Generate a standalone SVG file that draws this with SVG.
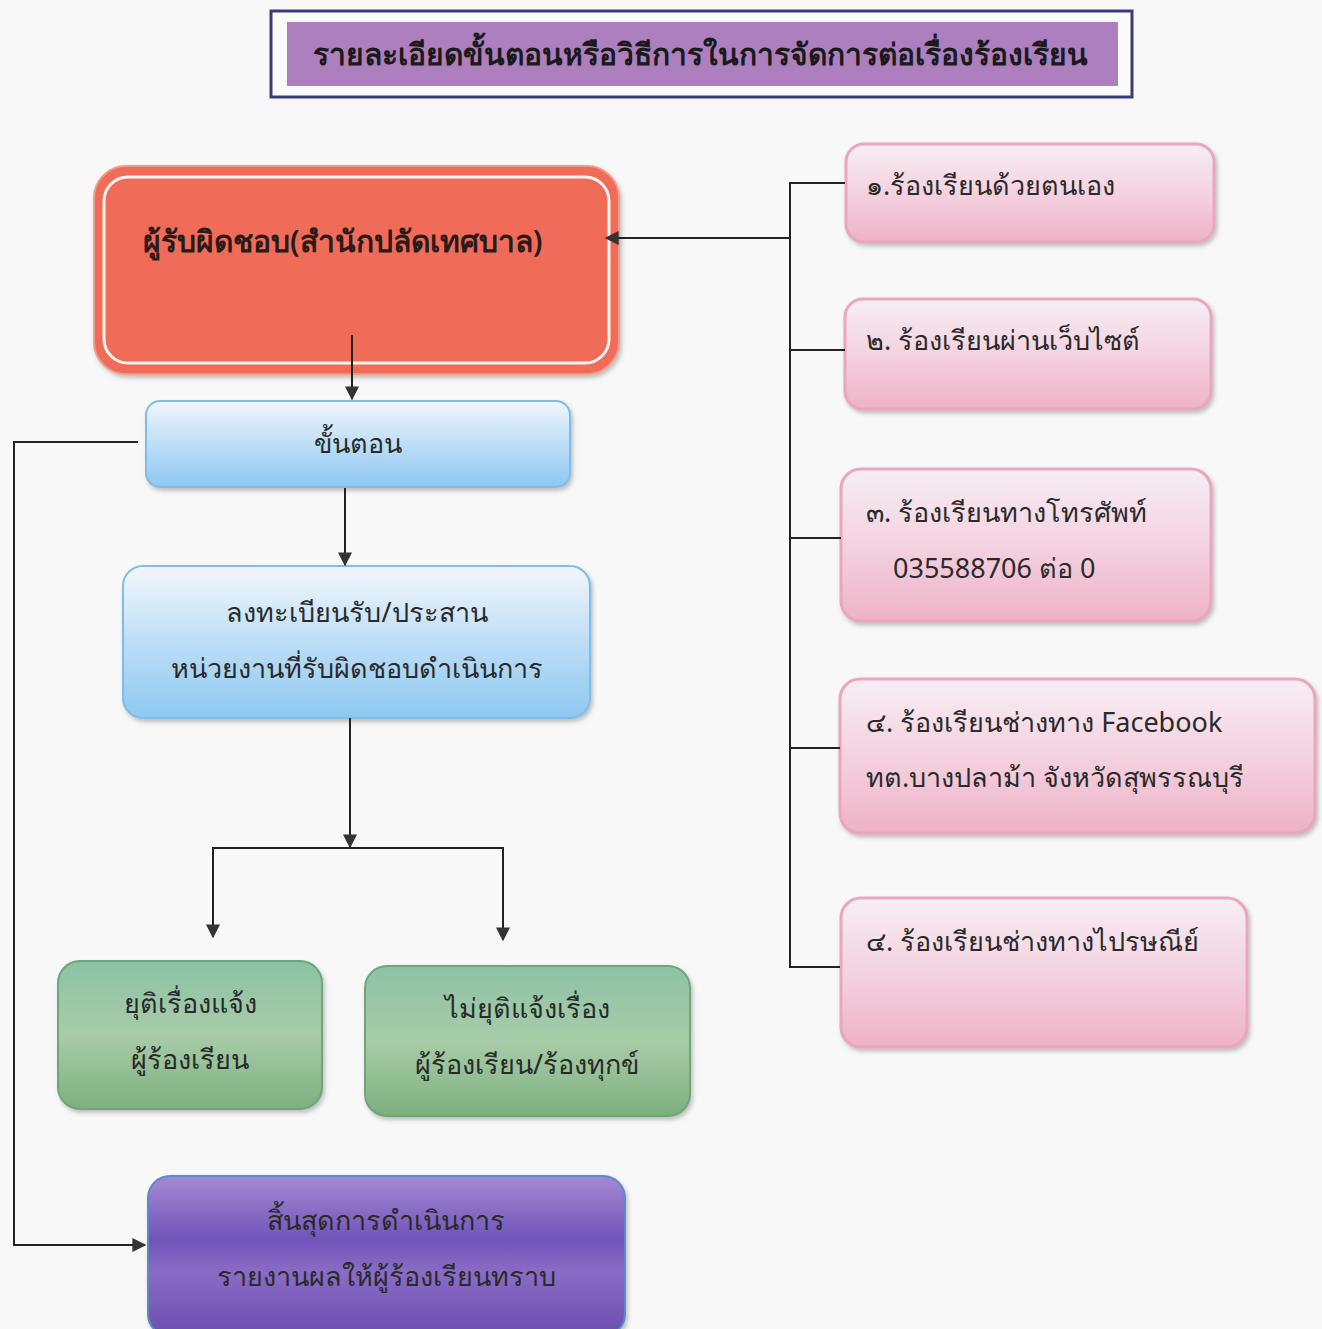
<svg xmlns="http://www.w3.org/2000/svg" width="1322" height="1329" viewBox="0 0 1322 1329">
<defs>
<linearGradient id="gBlue" x1="0" y1="0" x2="0" y2="1"><stop offset="0" stop-color="#f2f6fc"/><stop offset="0.55" stop-color="#b8dcf6"/><stop offset="1" stop-color="#8ec8f0"/></linearGradient>
<linearGradient id="gPink" x1="0" y1="0" x2="0" y2="1"><stop offset="0" stop-color="#f7eef4"/><stop offset="0.5" stop-color="#f4d2e0"/><stop offset="1" stop-color="#eeb2c6"/></linearGradient>
<linearGradient id="gGreen" x1="0" y1="0" x2="0" y2="1"><stop offset="0" stop-color="#8cc2a6"/><stop offset="0.5" stop-color="#a8cca8"/><stop offset="1" stop-color="#7db07e"/></linearGradient>
<linearGradient id="gPurple" x1="0" y1="0" x2="0" y2="1"><stop offset="0" stop-color="#a48ad4"/><stop offset="0.4" stop-color="#7054b8"/><stop offset="0.6" stop-color="#8a6cc6"/><stop offset="1" stop-color="#6a4eae"/></linearGradient>
<filter id="sh" x="-10%" y="-10%" width="120%" height="130%"><feDropShadow dx="2" dy="3" stdDeviation="2" flood-color="#555" flood-opacity="0.35"/></filter>
<marker id="arrB" viewBox="0 0 10 10" refX="9" refY="5" markerWidth="14" markerHeight="14" markerUnits="userSpaceOnUse" orient="auto"><path d="M0,0 L10,5 L0,10 z" fill="#333"/></marker>
</defs>
<style>
.t{font-family:"Noto Sans","DejaVu Sans",sans-serif;fill:#2a2a2a;font-size:27px}
.c{text-anchor:middle}
.ln{fill:none;stroke:#222;stroke-width:2}
.pink{fill:url(#gPink);stroke:#e9a6bd;stroke-width:3;filter:url(#sh)}
.blue{fill:url(#gBlue);stroke:#7fbde8;stroke-width:2;filter:url(#sh)}
.green{fill:url(#gGreen);stroke:#6ea67a;stroke-width:2;filter:url(#sh)}
</style>
<rect width="1322" height="1329" fill="#f8f8f8"/>

<g id="title">
<rect x="271" y="11" width="861" height="86" fill="#fafafa" stroke="#3a3a7a" stroke-width="3"/>
<rect x="287" y="22" width="831" height="64" fill="#ad7fbe"/>
<text class="t c" x="700" y="65" style="font-size:30px;font-weight:bold;fill:#1a1a1a">รายละเอียดขั้นตอนหรือวิธีการในการจัดการต่อเรื่องร้องเรียน</text>
</g>

<g id="responsible">
<rect x="94" y="166" width="525" height="208" rx="32" fill="#f06c58" stroke="#f39a8a" stroke-width="2" filter="url(#sh)"/>
<rect x="104" y="177" width="505" height="186" rx="24" fill="none" stroke="#fff4ee" stroke-width="3"/>
<text class="t" x="143" y="252" style="font-size:30px;font-weight:600;fill:#2a1a1a">ผู้รับผิดชอบ(สำนักปลัดเทศบาล)</text>
</g>

<g id="step">
<rect x="146" y="401" width="424" height="86" rx="14" class="blue"/>
<text class="t c" x="358" y="453">ขั้นตอน</text>
</g>

<g id="register">
<rect x="123" y="566" width="467" height="152" rx="20" class="blue"/>
<text class="t c" x="357" y="622">ลงทะเบียนรับ/ประสาน</text>
<text class="t c" x="357" y="678">หน่วยงานที่รับผิดชอบดำเนินการ</text>
</g>

<g id="resolved">
<rect x="58" y="961" width="264" height="148" rx="22" class="green"/>
<text class="t c" x="190" y="1013">ยุติเรื่องแจ้ง</text>
<text class="t c" x="190" y="1069">ผู้ร้องเรียน</text>
</g>

<g id="unresolved">
<rect x="365" y="966" width="325" height="150" rx="22" class="green"/>
<text class="t c" x="527" y="1018">ไม่ยุติแจ้งเรื่อง</text>
<text class="t c" x="527" y="1074">ผู้ร้องเรียน/ร้องทุกข์</text>
</g>

<g id="end">
<rect x="148" y="1176" width="477" height="160" rx="22" fill="url(#gPurple)" stroke="#5a8ac8" stroke-width="2" filter="url(#sh)"/>
<text class="t c" x="386" y="1230">สิ้นสุดการดำเนินการ</text>
<text class="t c" x="386" y="1286">รายงานผลให้ผู้ร้องเรียนทราบ</text>
</g>

<g id="ch1">
<rect x="846" y="144" width="368" height="98" rx="18" class="pink"/>
<text class="t" x="866" y="195">๑.ร้องเรียนด้วยตนเอง</text>
</g>
<g id="ch2">
<rect x="845" y="299" width="366" height="110" rx="18" class="pink"/>
<text class="t" x="866" y="350">๒. ร้องเรียนผ่านเว็บไซต์</text>
</g>
<g id="ch3">
<rect x="841" y="469" width="370" height="152" rx="20" class="pink"/>
<text class="t" x="866" y="522">๓. ร้องเรียนทางโทรศัพท์</text>
<text class="t" x="893" y="578">035588706 ต่อ 0</text>
</g>
<g id="ch4">
<rect x="840" y="679" width="475" height="154" rx="20" class="pink"/>
<text class="t" x="866" y="732">๔. ร้องเรียนช่างทาง Facebook</text>
<text class="t" x="866" y="787">ทต.บางปลาม้า จังหวัดสุพรรณบุรี</text>
</g>
<g id="ch5">
<rect x="841" y="898" width="406" height="149" rx="20" class="pink"/>
<text class="t" x="866" y="951">๔. ร้องเรียนช่างทางไปรษณีย์</text>
</g>

<g id="connectors">
<path class="ln" d="M352,335 V399" marker-end="url(#arrB)"/>
<path class="ln" d="M345,488 V565" marker-end="url(#arrB)"/>
<path class="ln" d="M350,718 V847" marker-end="url(#arrB)"/>
<path class="ln" d="M213,937 V848 H503 V939"/>
<path class="ln" d="M213,900 V937" marker-end="url(#arrB)"/>
<path class="ln" d="M503,900 V940" marker-end="url(#arrB)"/>
<path class="ln" d="M138,442 H14 V1245 H145" marker-end="url(#arrB)"/>
<path class="ln" d="M845,183 H790 V967 H840"/>
<path class="ln" d="M790,350 H845"/>
<path class="ln" d="M790,538 H841"/>
<path class="ln" d="M790,748 H840"/>
<path class="ln" d="M790,238 H606" marker-end="url(#arrB)"/>
</g>
</svg>
